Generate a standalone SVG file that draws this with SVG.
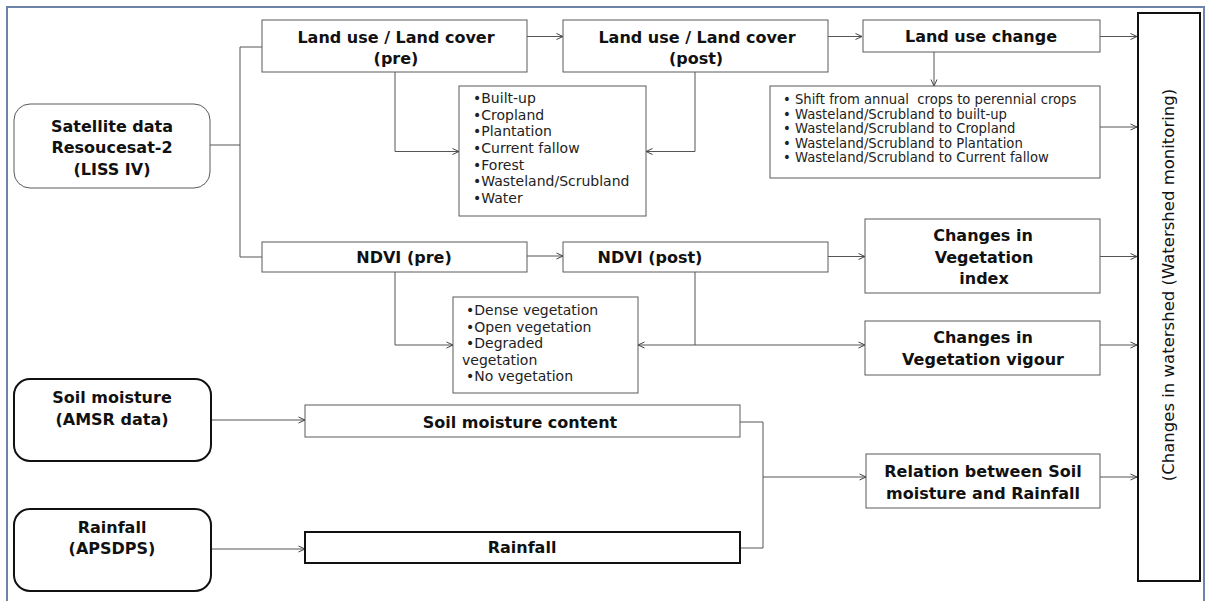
<svg xmlns="http://www.w3.org/2000/svg" width="1209" height="601" viewBox="0 0 1209 601">
<style>
.box{fill:#fff;stroke:#5a5a5a;stroke-width:1}
.thick{fill:#fff;stroke:#111;stroke-width:2}
.t{font-family:"DejaVu Sans",sans-serif;font-size:16px;font-weight:bold;fill:#111;text-anchor:middle}
.l{font-family:"DejaVu Sans",sans-serif;font-size:14px;fill:#222}
.s{font-size:13.2px}
.c{fill:none;stroke:#555;stroke-width:1}
.a{marker-end:url(#arr)}
</style>
<defs>
<marker id="arr" viewBox="0 0 8 8" refX="7.5" refY="4" markerWidth="8" markerHeight="8" markerUnits="userSpaceOnUse" orient="auto">
<path d="M1,1 L7.5,4 L1,7" fill="none" stroke="#444" stroke-width="1"/>
</marker>
</defs>
<rect x="0" y="0" width="1209" height="601" fill="#fff"/>
<rect id="frame" x="7" y="7" width="1197" height="600" fill="none" stroke="#6d84a8" stroke-width="2"/>

<g id="connectors">
<path class="c" d="M210,145 H240 M240,47 V257 M240,47 H262 M240,257 H262"/>
<path class="c a" d="M527,36.5 H563"/>
<path class="c a" d="M828,36.5 H862"/>
<path class="c a" d="M1100,36.5 H1137"/>
<path class="c a" d="M934,52 V86"/>
<path class="c a" d="M1100,127 H1137"/>
<path class="c a" d="M395,72 V151.5 H459"/>
<path class="c a" d="M695,72 V151.5 H646"/>
<path class="c a" d="M527,256 H563"/>
<path class="c a" d="M828,256.5 H865"/>
<path class="c a" d="M1100,256.5 H1137"/>
<path class="c a" d="M395,272 V345 H453"/>
<path class="c a" d="M695,272 V345 H638"/>
<path class="c a" d="M695,345 H865"/>
<path class="c a" d="M1100,345 H1137"/>
<path class="c a" d="M211,420 H305"/>
<path class="c a" d="M211,549 H305"/>
<path class="c" d="M740,422 H763 V548 H740"/>
<path class="c a" d="M763,477 H866"/>
<path class="c a" d="M1100,477 H1137"/>
</g>

<g id="satellite">
<rect class="box" x="14" y="104" width="196" height="84" rx="16"/>
<text class="t" x="112" y="132">Satellite data</text>
<text class="t" x="112" y="153">Resoucesat-2</text>
<text class="t" x="112" y="175">(LISS IV)</text>
</g>

<g id="lulc-pre">
<rect class="box" x="262" y="20" width="265" height="52"/>
<text class="t" x="396" y="43">Land use / Land cover</text>
<text class="t" x="396" y="64">(pre)</text>
</g>

<g id="lulc-post">
<rect class="box" x="563" y="20" width="265" height="52"/>
<text class="t" x="697" y="43">Land use / Land cover</text>
<text class="t" x="696" y="64">(post)</text>
</g>

<g id="lu-change">
<rect class="box" x="863" y="20" width="237" height="32"/>
<text class="t" x="981" y="42">Land use change</text>
</g>

<g id="lulc-classes">
<rect class="box" x="459" y="86" width="187" height="130"/>
<text class="l" x="473" y="103">•Built-up</text>
<text class="l" x="473" y="119.5">•Cropland</text>
<text class="l" x="473" y="136.3">•Plantation</text>
<text class="l" x="473" y="153">•Current fallow</text>
<text class="l" x="473" y="169.7">•Forest</text>
<text class="l" x="473" y="186.3">•Wasteland/Scrubland</text>
<text class="l" x="473" y="203">•Water</text>
</g>

<g id="change-list">
<rect class="box" x="770" y="86" width="330" height="92"/>
<text class="l s" x="783" y="104" xml:space="preserve">• Shift from annual  crops to perennial crops</text>
<text class="l s" x="783" y="118.7">• Wasteland/Scrubland to built-up</text>
<text class="l s" x="783" y="133">• Wasteland/Scrubland to Cropland</text>
<text class="l s" x="783" y="147.5">• Wasteland/Scrubland to Plantation</text>
<text class="l s" x="783" y="162">• Wasteland/Scrubland to Current fallow</text>
</g>

<g id="ndvi-pre">
<rect class="box" x="262" y="242" width="265" height="30"/>
<text class="t" x="404" y="263">NDVI (pre)</text>
</g>

<g id="ndvi-post">
<rect class="box" x="563" y="242" width="265" height="30"/>
<text class="t" x="650" y="263">NDVI (post)</text>
</g>

<g id="veg-index">
<rect class="box" x="865" y="219" width="235" height="74"/>
<text class="t" x="983" y="241">Changes in</text>
<text class="t" x="984" y="263">Vegetation</text>
<text class="t" x="984" y="284">index</text>
</g>

<g id="ndvi-classes">
<rect class="box" x="453" y="297" width="185" height="96"/>
<text class="l" x="466" y="315.3">•Dense vegetation</text>
<text class="l" x="466" y="331.5">•Open vegetation</text>
<text class="l" x="466" y="348">•Degraded</text>
<text class="l" x="462" y="364.7">vegetation</text>
<text class="l" x="466" y="381.3">•No vegetation</text>
</g>

<g id="veg-vigour">
<rect class="box" x="865" y="321" width="235" height="54"/>
<text class="t" x="983" y="343">Changes in</text>
<text class="t" x="983" y="365">Vegetation vigour</text>
</g>

<g id="soil-moisture">
<rect class="thick" x="14" y="379" width="197" height="82" rx="16"/>
<text class="t" x="112" y="403">Soil moisture</text>
<text class="t" x="112" y="425">(AMSR data)</text>
</g>

<g id="smc">
<rect class="box" x="305" y="405" width="435" height="32"/>
<text class="t" x="520" y="428">Soil moisture content</text>
</g>

<g id="relation">
<rect class="box" x="866" y="454" width="234" height="54"/>
<text class="t" x="983" y="477">Relation between Soil</text>
<text class="t" x="983" y="499">moisture and Rainfall</text>
</g>

<g id="rainfall-src">
<rect class="thick" x="14" y="509" width="197" height="82" rx="16"/>
<text class="t" x="112" y="533">Rainfall</text>
<text class="t" x="112" y="554">(APSDPS)</text>
</g>

<g id="rainfall">
<rect class="thick" x="305" y="532" width="435" height="31"/>
<text class="t" x="522" y="553">Rainfall</text>
</g>

<g id="watershed">
<rect class="thick" x="1138" y="13" width="62" height="568"/>
<text x="1174" y="285" transform="rotate(-90 1174 285)" font-family="DejaVu Sans, sans-serif" font-size="16.5" fill="#111" text-anchor="middle">(Changes in watershed (Watershed monitoring)</text>
</g>
</svg>
